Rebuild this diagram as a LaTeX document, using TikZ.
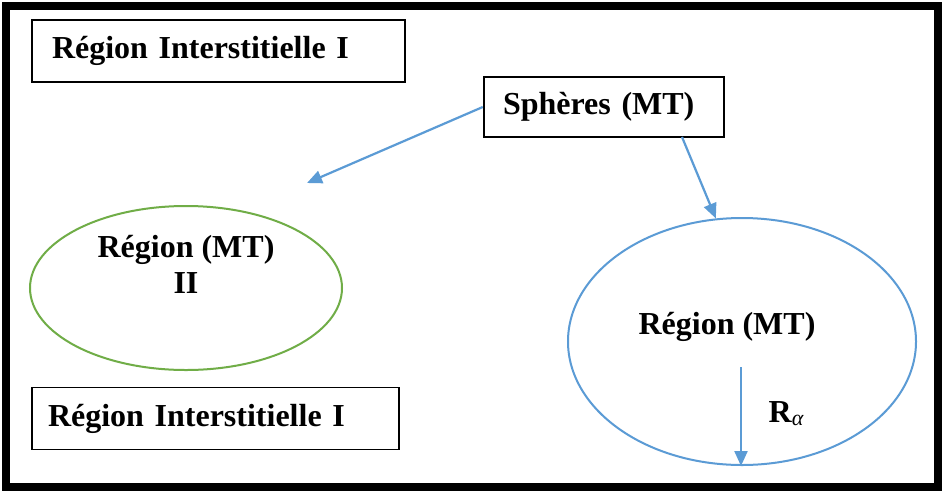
\documentclass[tikz,border=0pt]{standalone}
\usepackage{fontspec}
\setmainfont{Liberation Serif}
\usetikzlibrary{shapes.geometric,arrows.meta}
\definecolor{bluearr}{RGB}{91,155,213}
\definecolor{greenell}{RGB}{112,173,71}
\begin{document}
\begin{tikzpicture}[x=1pt,y=-1pt,
  txt/.style={font=\fontsize{32}{36}\selectfont\bfseries, inner sep=0pt},
  labelbox/.style={draw=black, line width=1.3pt, minimum height=62pt, align=left,
     font=\fontsize{32}{36}\selectfont\bfseries, inner ysep=0pt},
  conn/.style={draw=bluearr, line width=2.2pt, -{Triangle[length=15pt,width=13pt]}}]
\useasboundingbox (0,0) rectangle (944,491);
\fill[white] (0,0) rectangle (944,491);
\draw[line width=8pt] (6,6) rectangle (938,487);
% boxes
\node[labelbox, text width=333pt, inner xsep=20pt] (top) at (218.5,51) {Région Interstitielle I};
\node[labelbox, text width=335pt, inner xsep=16pt] (bot) at (215.5,418.5) {Région Interstitielle I};
\node[labelbox, line width=2.5pt, minimum height=60pt, text width=202pt, inner xsep=19pt] (sph) at (604,107) {Sphères (MT)};
% ellipses
\node[ellipse, draw=greenell, line width=2pt, minimum width=312pt, minimum height=164pt] (g) at (186,288) {};
\node[ellipse, draw=bluearr, line width=2pt, minimum width=348pt, minimum height=247pt] (b) at (742,341.5) {};
\node[txt, align=center] (gt) at (186,264) {Région (MT)\\II};
\node[txt] (bt) at (727,327) {Région (MT)};
\node[inner sep=0pt, font=\fontsize{32}{36}\selectfont] (ra) at (786,414) {\textbf{R}\raisebox{-3pt}{\fontsize{22}{24}\selectfont\itshape α}};
% connectors
\coordinate (gend) at (307,183);
\coordinate (s2) at (682,137);
\coordinate (rs) at (741,367);
\draw[conn] (sph.west) -- (gend);
\draw[conn] (s2) -- (b.102);
\draw[conn] (rs) -- (rs |- b.south);
\end{tikzpicture}
\end{document}
